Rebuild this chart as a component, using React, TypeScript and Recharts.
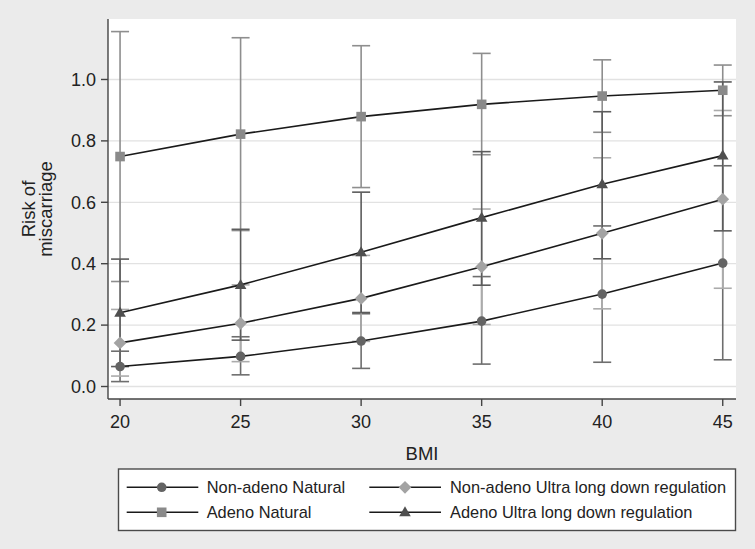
import React from "react";
import { ComposedChart, Line, ErrorBar, XAxis, YAxis, CartesianGrid } from "recharts";

const bmi = [20, 25, 30, 35, 40, 45];
const xTicks = [20, 25, 30, 35, 40, 45];
const yTicks = [0, 0.2, 0.4, 0.6, 0.8, 1.0];

const nonAdenoNatural = [0.065, 0.098, 0.148, 0.213, 0.301, 0.402];
const nonAdenoNaturalLow = [0.016, 0.038, 0.059, 0.073, 0.079, 0.087];
const nonAdenoNaturalHigh = [0.115, 0.162, 0.237, 0.358, 0.523, 0.719];

const nonAdenoUltra = [0.142, 0.206, 0.287, 0.39, 0.499, 0.61];
const nonAdenoUltraLow = [0.034, 0.081, 0.147, 0.202, 0.253, 0.32];
const nonAdenoUltraHigh = [0.251, 0.331, 0.427, 0.578, 0.745, 0.899];

const adenoNatural = [0.749, 0.822, 0.879, 0.919, 0.946, 0.965];
const adenoNaturalLow = [0.342, 0.508, 0.648, 0.755, 0.828, 0.882];
const adenoNaturalHigh = [1.156, 1.136, 1.11, 1.085, 1.064, 1.047];

const adenoUltra = [0.24, 0.331, 0.437, 0.55, 0.659, 0.752];
const adenoUltraLow = [0.065, 0.151, 0.241, 0.33, 0.416, 0.507];
const adenoUltraHigh = [0.415, 0.512, 0.633, 0.765, 0.895, 0.992];

const legendLabels = [
  "Non-adeno Natural",
  "Non-adeno Ultra long down regulation",
  "Adeno Natural",
  "Adeno Ultra long down regulation",
];

const FONT = '"Liberation Sans", Arial, Helvetica, sans-serif';
const BG = "#ebebeb";

const C_NN = "#646464";
const C_NU = "#a3a3a3";
const C_AN = "#8a8a8a";
const C_AU = "#4f4f4f";
const E_NN = "#6e6e6e";
const E_NU = "#ababab";
const E_AN = "#8e8e8e";
const E_AU = "#5c5c5c";

const data = bmi.map((x, i) => ({
  bmi: x,
  nn: nonAdenoNatural[i],
  nnErr: [nonAdenoNatural[i] - nonAdenoNaturalLow[i], nonAdenoNaturalHigh[i] - nonAdenoNatural[i]],
  nu: nonAdenoUltra[i],
  nuErr: [nonAdenoUltra[i] - nonAdenoUltraLow[i], nonAdenoUltraHigh[i] - nonAdenoUltra[i]],
  an: adenoNatural[i],
  anErr: [adenoNatural[i] - adenoNaturalLow[i], adenoNaturalHigh[i] - adenoNatural[i]],
  au: adenoUltra[i],
  auErr: [adenoUltra[i] - adenoUltraLow[i], adenoUltraHigh[i] - adenoUltra[i]],
}));

type Shape = "circle" | "diamond" | "square" | "triangle";

const markerEl = (shape: Shape, cx: number, cy: number, fill: string, key?: string | number) => {
  if (shape === "circle") return <circle key={key} cx={cx} cy={cy} r={4.8} fill={fill} />;
  if (shape === "square") return <rect key={key} x={cx - 4.8} y={cy - 4.8} width={9.6} height={9.6} fill={fill} />;
  if (shape === "diamond")
    return (
      <polygon key={key} points={`${cx},${cy - 6.4} ${cx + 6.4},${cy} ${cx},${cy + 6.4} ${cx - 6.4},${cy}`} fill={fill} />
    );
  return (
    <polygon key={key} points={`${cx},${cy - 6} ${cx + 5.8},${cy + 4} ${cx - 5.8},${cy + 4}`} fill={fill} />
  );
};

const makeDot = (shape: Shape, fill: string) => (props: any) => {
  const { cx, cy, index } = props;
  if (cx == null || cy == null) return <g key={`e-${shape}-${index}`} />;
  return markerEl(shape, cx, cy, fill, `${shape}-${index}`);
};

const YLabel = () => (
  <g fontFamily={FONT} fontSize={18.5} fill="#222">
    <text transform="translate(35,209) rotate(-90)" textAnchor="middle">Risk of</text>
    <text transform="translate(51.5,209) rotate(-90)" textAnchor="middle">miscarriage</text>
  </g>
);

const XLabel = (props: any) => {
  const vb = props.viewBox || {};
  const cx = (vb.x ?? 108) + (vb.width ?? 628) / 2;
  return (
    <text x={cx} y={459.5} textAnchor="middle" fontFamily={FONT} fontSize={18.5} fill="#222">
      BMI
    </text>
  );
};

const Legend = () => {
  const rows = [487.3, 512.3];
  const cols = [
    { l1: 126.7, l2: 198.3, m: 161.7, t: 206.7 },
    { l1: 369.3, l2: 441, m: 405, t: 450 },
  ];
  const items: { shape: Shape; fill: string; label: string; r: number; c: number }[] = [
    { shape: "circle", fill: C_NN, label: legendLabels[0], r: 0, c: 0 },
    { shape: "diamond", fill: C_NU, label: legendLabels[1], r: 0, c: 1 },
    { shape: "square", fill: C_AN, label: legendLabels[2], r: 1, c: 0 },
    { shape: "triangle", fill: C_AU, label: legendLabels[3], r: 1, c: 1 },
  ];
  return (
    <svg width={755} height={549} style={{ position: "absolute", left: 0, top: 0, pointerEvents: "none" }}>
      <rect x={118.5} y={469} width={617} height={61.5} fill="#fff" stroke="#4a4a4a" strokeWidth={1.4} />
      {items.map((it, i) => {
        const y = rows[it.r];
        const col = cols[it.c];
        return (
          <g key={i}>
            <line x1={col.l1} x2={col.l2} y1={y} y2={y} stroke="#1a1a1a" strokeWidth={1.5} />
            {markerEl(it.shape, col.m, y, it.fill)}
            <text x={col.t} y={y + 6} fontFamily={FONT} fontSize={16.4} fill="#222">
              {it.label}
            </text>
          </g>
        );
      })}
    </svg>
  );
};

const errProps = { width: 9, strokeWidth: 1.6, direction: "y" as const };

export default function App() {
  return (
    <div style={{ position: "absolute", left: 0, top: 0, width: 755, height: 549, background: BG }}>
      <ComposedChart
        width={755}
        height={549}
        data={data}
        margin={{ top: 19, right: 19, bottom: 90, left: 0 }}
        style={{ fontFamily: FONT }}
      >
        <CartesianGrid vertical={false} horizontal={true} stroke="#e2e2e2" strokeWidth={1.3} fill="#ffffff" fillOpacity={1} horizontalValues={yTicks} />
        <XAxis
          dataKey="bmi"
          type="number"
          domain={[19.5, 45.55]}
          ticks={xTicks}
          allowDataOverflow
          height={60}
          tickSize={7}
          tickMargin={9}
          stroke="#444"
          strokeWidth={1.4}
          tick={{ fill: "#222", fontSize: 18, fontFamily: FONT }}
          tickLine={{ stroke: "#444", strokeWidth: 1.4 }}
          label={<XLabel />}
        />
        <YAxis
          type="number"
          domain={[-0.0407, 1.197]}
          ticks={yTicks}
          allowDataOverflow
          width={108}
          tickSize={7}
          tickMargin={5}
          stroke="#444"
          strokeWidth={1.4}
          tickFormatter={(v: number) => v.toFixed(1)}
          tick={{ fill: "#222", fontSize: 18, fontFamily: FONT }}
          tickLine={{ stroke: "#444", strokeWidth: 1.4 }}
          label={<YLabel />}
        />
        {/* error bars first, beneath all lines */}
        <Line dataKey="nn" stroke="none" dot={false} activeDot={false} isAnimationActive={false} legendType="none">
          <ErrorBar dataKey="nnErr" stroke={E_NN} {...errProps} />
        </Line>
        <Line dataKey="nu" stroke="none" dot={false} activeDot={false} isAnimationActive={false} legendType="none">
          <ErrorBar dataKey="nuErr" stroke={E_NU} {...errProps} />
        </Line>
        <Line dataKey="an" stroke="none" dot={false} activeDot={false} isAnimationActive={false} legendType="none">
          <ErrorBar dataKey="anErr" stroke={E_AN} {...errProps} />
        </Line>
        <Line dataKey="au" stroke="none" dot={false} activeDot={false} isAnimationActive={false} legendType="none">
          <ErrorBar dataKey="auErr" stroke={E_AU} {...errProps} />
        </Line>
        {/* connected lines with markers */}
        <Line dataKey="nn" type="linear" stroke="#1a1a1a" strokeWidth={1.6} dot={makeDot("circle", C_NN)} activeDot={false} isAnimationActive={false} />
        <Line dataKey="nu" type="linear" stroke="#1a1a1a" strokeWidth={1.6} dot={makeDot("diamond", C_NU)} activeDot={false} isAnimationActive={false} />
        <Line dataKey="an" type="linear" stroke="#1a1a1a" strokeWidth={1.6} dot={makeDot("square", C_AN)} activeDot={false} isAnimationActive={false} />
        <Line dataKey="au" type="linear" stroke="#1a1a1a" strokeWidth={1.6} dot={makeDot("triangle", C_AU)} activeDot={false} isAnimationActive={false} />
      </ComposedChart>
      <Legend />
    </div>
  );
}
